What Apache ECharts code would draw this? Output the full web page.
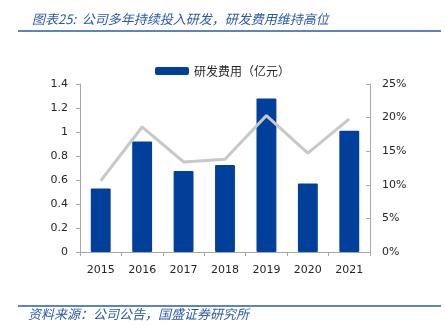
<!DOCTYPE html>
<html>
<head>
<meta charset="utf-8">
<script src="https://cdn.jsdelivr.net/npm/echarts@6/dist/echarts.min.js"></script>
<style>
  html, body { margin: 0; padding: 0; background: #fff; }
  #chart { width: 445px; height: 330px; }
</style>
</head>
<body>
<div id="chart"></div>
<script>
// Annual R&D spending and R&D expense ratio
const years = ['2015', '2016', '2017', '2018', '2019', '2020', '2021'];
const rdExpense = [0.53, 0.92, 0.675, 0.725, 1.28, 0.57, 1.01];   // 亿元
const rdRatio = [10.6, 18.6, 13.4, 13.8, 20.3, 14.7, 19.8];      // %

const blue = '#00409a';
const navy = '#2a5aa8';
const axisGray = '#a6a6a6';
const txt = '#262626';
const cjk = '"Noto Sans CJK SC", sans-serif';
const num = '"DejaVu Sans", sans-serif';

const chart = echarts.init(document.getElementById('chart'), null, { renderer: 'canvas' });

chart.setOption({
  animation: false,
  backgroundColor: '#fff',
  title: {
    text: '图表25:  公司多年持续投入研发，研发费用维持高位',
    left: 27, top: 8,
    textStyle: { color: navy, fontSize: 13, fontStyle: 'italic', fontWeight: 'normal', fontFamily: cjk }
  },
  graphic: [
    { type: 'line', shape: { x1: 18, y1: 31, x2: 441, y2: 31 }, style: { stroke: navy, lineWidth: 1.5 } },
    { type: 'line', shape: { x1: 18, y1: 306, x2: 441, y2: 306 }, style: { stroke: navy, lineWidth: 1.5 } },
    {
      type: 'text', left: 28, top: 308,
      style: { text: '资料来源：公司公告，国盛证券研究所', fill: navy, font: 'italic 13px ' + cjk }
    }
  ],
  legend: {
    data: ['研发费用（亿元）'],
    top: 60, left: 'center',
    itemWidth: 34, itemHeight: 8, itemGap: 3,
    textStyle: { color: txt, fontSize: 12, fontFamily: cjk }
  },
  grid: { left: 80, right: 75, top: 84, bottom: 78 },
  xAxis: {
    type: 'category',
    data: years,
    axisLine: { lineStyle: { color: axisGray } },
    axisTick: { show: true, length: 4, lineStyle: { color: axisGray } },
    axisLabel: { color: txt, fontSize: 11, fontFamily: num, margin: 13 }
  },
  yAxis: [
    {
      type: 'value', min: 0, max: 1.4, interval: 0.2,
      splitLine: { show: false },
      axisLine: { show: true, lineStyle: { color: axisGray } },
      axisTick: { show: true, length: 4, lineStyle: { color: axisGray } },
      axisLabel: { color: txt, fontSize: 11, fontFamily: num, margin: 12 }
    },
    {
      type: 'value', min: 0, max: 25, interval: 5,
      splitLine: { show: false },
      axisLine: { show: true, lineStyle: { color: axisGray } },
      axisTick: { show: true, inside: true, length: 4, lineStyle: { color: axisGray } },
      axisLabel: { color: txt, fontSize: 11, fontFamily: num, margin: 12, formatter: '{value}%' }
    }
  ],
  series: [
    {
      name: '研发费用（亿元）',
      type: 'bar',
      data: rdExpense,
      barWidth: '48%',
      itemStyle: { color: blue, borderRadius: 1 }
    },
    {
      name: '研发费用率',
      type: 'line',
      yAxisIndex: 1,
      data: rdRatio,
      symbol: 'none',
      lineStyle: { color: '#c8c8c8', width: 3 },
      z: 3
    }
  ]
});
</script>
</body>
</html>
